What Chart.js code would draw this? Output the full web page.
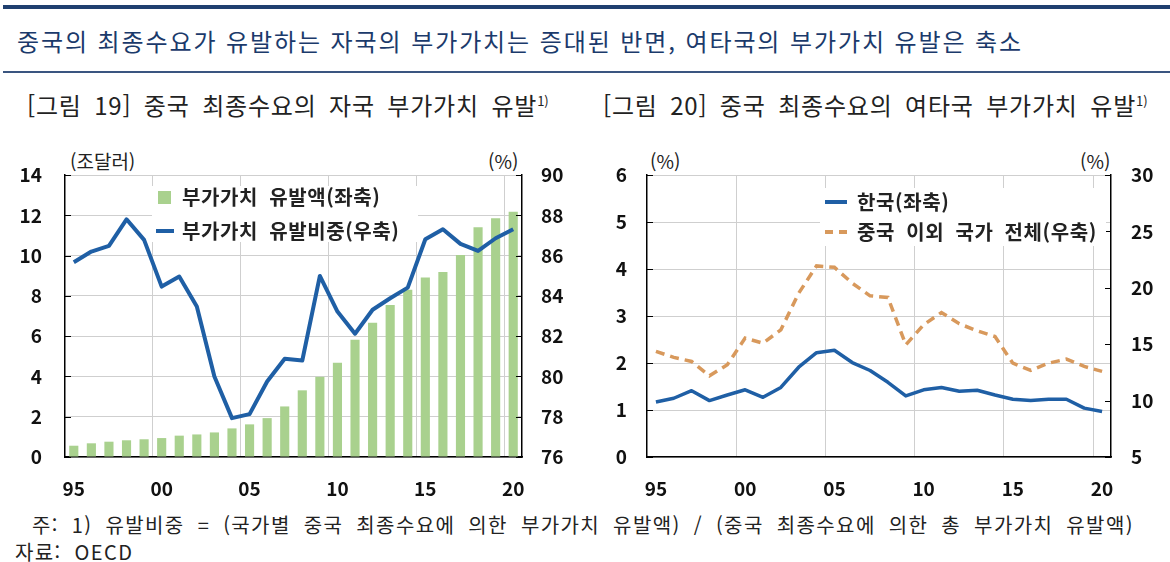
<!DOCTYPE html>
<html lang="ko">
<head>
<meta charset="utf-8">
<script src="https://cdn.jsdelivr.net/npm/chart.js@4.4.1/dist/chart.umd.min.js"></script>
<style>
  html, body { margin: 0; padding: 0; background: #fff; }
  body { width: 1170px; height: 562px; position: relative; overflow: hidden;
         font-family: "Noto Sans CJK KR", "Noto Sans", sans-serif; color: #222; }
  .abs { position: absolute; white-space: nowrap; }
  #topRule { left: 3px; top: 5px; width: 1167px; height: 4px; background: #1f3f6f; }
  #subRule { left: 3px; top: 71px; width: 1167px; height: 2px; background: #3a5580; }
  #headline { left: 17px; top: 23px; font-size: 24px; color: #1b3a6b; letter-spacing: 1.9px; }
  .figTitle { top: 87px; font-size: 24px; color: #222; letter-spacing: 0.8px; word-spacing: 5px; }
  .figTitle sup { font-size: 13px; letter-spacing: 0; }
  .unit { top: 147px; font-size: 19px; color: #222; }
  .legendBox { position: absolute; background: #fff; z-index: 2; }
  .legend { font-size: 20px; font-weight: bold; color: #222; letter-spacing: 0.6px; word-spacing: 5px; z-index: 3; }
  .sym { z-index: 3; }
  .note { font-size: 20px; color: #222; letter-spacing: 1.4px; word-spacing: 6px; }
  canvas { position: absolute; z-index: 1; }
</style>
</head>
<body>
<div id="topRule" class="abs"></div>
<div id="headline" class="abs">중국의 최종수요가 유발하는 자국의 부가가치는 증대된 반면, 여타국의 부가가치 유발은 축소</div>
<div id="subRule" class="abs"></div>

<div class="abs figTitle" style="left:27px">[그림 19] 중국 최종수요의 자국 부가가치 유발<sup>1)</sup></div>
<div class="abs figTitle" style="left:603px">[그림 20] 중국 최종수요의 여타국 부가가치 유발<sup>1)</sup></div>

<div class="abs unit" style="left:70px">(조달러)</div>
<div class="abs unit" style="left:488px">(%)</div>
<div class="abs unit" style="left:650px">(%)</div>
<div class="abs unit" style="left:1080px">(%)</div>

<canvas id="fig19" style="left:0;top:140px" width="595" height="370"></canvas>
<canvas id="fig20" style="left:595px;top:140px" width="575" height="370"></canvas>

<!-- legend, chart 19 -->
<div class="legendBox" style="left:152px;top:186px;width:266px;height:56px"></div>
<div class="abs sym" style="left:158px;top:191px;width:13px;height:13px;background:#a9d18e"></div>
<div class="abs legend" style="left:182px;top:182px">부가가치 유발액(좌축)</div>
<div class="abs sym" style="left:156px;top:229px;width:18px;height:4px;background:#1f5fa5"></div>
<div class="abs legend" style="left:182px;top:216px">부가가치 유발비중(우축)</div>

<!-- legend, chart 20 -->
<div class="legendBox" style="left:820px;top:188px;width:286px;height:58px"></div>
<div class="abs sym" style="left:825px;top:200px;width:22px;height:4px;background:#1f5fa5"></div>
<div class="abs legend" style="left:857px;top:187px">한국(좌축)</div>
<div class="abs sym" style="left:825px;top:230px;width:8px;height:4px;background:#d8995c"></div>
<div class="abs sym" style="left:839px;top:230px;width:8px;height:4px;background:#d8995c"></div>
<div class="abs legend" style="left:857px;top:217px">중국 이외 국가 전체(우축)</div>

<div class="abs note" style="left:32px;top:510px">주: 1) 유발비중 = (국가별 중국 최종수요에 의한 부가가치 유발액) / (중국 최종수요에 의한 총 부가가치 유발액)</div>
<div class="abs note" style="left:15px;top:537px">자료: OECD</div>

<script>
// years 1995 ~ 2020
const years = [1995, 1996, 1997, 1998, 1999, 2000, 2001, 2002, 2003, 2004, 2005, 2006, 2007,
               2008, 2009, 2010, 2011, 2012, 2013, 2014, 2015, 2016, 2017, 2018, 2019, 2020];

// [그림 19] 부가가치 유발액 (조달러, 좌축)
const vaAmount = [0.56, 0.68, 0.76, 0.83, 0.88, 0.94, 1.06, 1.12, 1.22, 1.42, 1.62, 1.93, 2.51,
                  3.31, 3.98, 4.68, 5.82, 6.66, 7.54, 8.30, 8.91, 9.19, 10.03, 11.40, 11.85, 12.17];
// [그림 19] 부가가치 유발비중 (%, 우축)
const vaShare = [85.67, 86.20, 86.48, 87.80, 86.78, 84.46, 84.96, 83.47, 80.00, 77.93, 78.13, 79.75, 80.88,
                 80.79, 84.99, 83.22, 82.12, 83.31, 83.88, 84.41, 86.81, 87.31, 86.58, 86.23, 86.86, 87.31];

// [그림 20] 한국 (%, 좌축)
const korea = [1.17, 1.25, 1.41, 1.20, 1.32, 1.43, 1.27, 1.48, 1.91, 2.22, 2.27, 2.01, 1.84,
               1.59, 1.30, 1.43, 1.48, 1.40, 1.42, 1.32, 1.23, 1.20, 1.23, 1.23, 1.04, 0.97];
// [그림 20] 중국 이외 국가 전체 (%, 우축)
const otherCountries = [14.36, 13.83, 13.47, 12.20, 13.18, 15.54, 15.09, 16.27, 19.52, 21.94, 21.82, 20.41, 19.29,
                        19.14, 14.95, 16.72, 17.81, 16.81, 16.19, 15.68, 13.32, 12.67, 13.32, 13.68, 13.03, 12.59];

const yearLabels = years.map(y => String(y % 100).padStart(2, "0"));

const BLUE = "#1f5fa5";
const GREEN = "#a9d18e";
const ORANGE = "#d8995c";
const GRID = "#cfcfcf";
const tickFont = { family: "'Noto Sans CJK KR', 'Noto Sans', sans-serif", size: 19, weight: "bold" };

// short tick marks pointing into the plot, like the original
const innerTicks = {
    id: "innerTicks",
    afterDraw(chart) {
        const ctx = chart.ctx;
        const area = chart.chartArea;
        ctx.save();
        ctx.strokeStyle = "#000";
        ctx.lineWidth = 1;
        Object.values(chart.scales).forEach(scale => {
            if (scale.axis !== "y") return;
            const left = scale.position === "left";
            scale.ticks.forEach(t => {
                const y = Math.round(scale.getPixelForValue(t.value)) + 0.5;
                const x0 = left ? area.left : area.right;
                ctx.beginPath();
                ctx.moveTo(x0, y);
                ctx.lineTo(left ? x0 + 6 : x0 - 6, y);
                ctx.stroke();
            });
        });
        ctx.restore();
    }
};

function xAxis(height) {
    return {
        type: "category",
        offset: true,
        grid: {
            offset: true,
            drawTicks: false,
            // gridlines sit on the boundary before 2000, 2005, ... 2020
            color: c => (c.index > 0 && c.index < years.length && years[c.index] % 5 === 0) ? GRID : "rgba(0,0,0,0)",
            lineWidth: 1
        },
        border: { display: true, color: "#000", width: 1.5 },
        ticks: {
            autoSkip: false,
            maxRotation: 0,
            padding: 20,
            color: "#111",
            font: tickFont,
            callback: (v, i) => years[i] % 5 === 0 ? yearLabels[i] : ""
        },
        afterFit: s => { s.height = height; }
    };
}

function yAxis(pos, min, max, step, width, pad, showGrid) {
    return {
        position: pos,
        min: min,
        max: max,
        ticks: { stepSize: step, padding: pad, color: "#111", font: tickFont },
        grid: { display: showGrid, drawTicks: false, color: GRID, lineWidth: 1 },
        border: { display: true, color: "#000", width: 1.5 },
        afterFit: s => { s.width = width; }
    };
}

const common = {
    responsive: false,
    animation: false,
    plugins: { legend: { display: false }, tooltip: { enabled: false } },
    elements: { point: { radius: 0 } }
};

new Chart(document.getElementById("fig19"), {
    data: {
        labels: yearLabels,
        datasets: [
            { type: "line", label: "부가가치 유발비중(우축)", data: vaShare, yAxisID: "yR",
              borderColor: BLUE, borderWidth: 4, tension: 0, borderJoinStyle: "round" },
            { type: "bar", label: "부가가치 유발액(좌축)", data: vaAmount, yAxisID: "yL",
              backgroundColor: GREEN, categoryPercentage: 1, barPercentage: 0.52 }
        ]
    },
    options: Object.assign({}, common, {
        layout: { padding: { top: 35, left: 0, right: 0, bottom: 0 } },
        scales: {
            x: xAxis(53),
            yL: yAxis("left", 0, 14, 2, 65, 23, true),
            yR: yAxis("right", 76, 90, 2, 73, 19, false)
        }
    }),
    plugins: [innerTicks]
});

new Chart(document.getElementById("fig20"), {
    data: {
        labels: yearLabels,
        datasets: [
            { type: "line", label: "한국(좌축)", data: korea, yAxisID: "yL",
              borderColor: BLUE, borderWidth: 3.5, tension: 0, borderJoinStyle: "round" },
            { type: "line", label: "중국 이외 국가 전체(우축)", data: otherCountries, yAxisID: "yR",
              borderColor: ORANGE, borderWidth: 3.5, borderDash: [9, 6], tension: 0 }
        ]
    },
    options: Object.assign({}, common, {
        layout: { padding: { top: 35, left: 0, right: 0, bottom: 0 } },
        scales: {
            x: xAxis(53),
            yL: yAxis("left", 0, 6, 1, 52, 20, true),
            yR: yAxis("right", 5, 30, 5, 59, 20, false)
        }
    }),
    plugins: [innerTicks]
});
</script>
</body>
</html>
